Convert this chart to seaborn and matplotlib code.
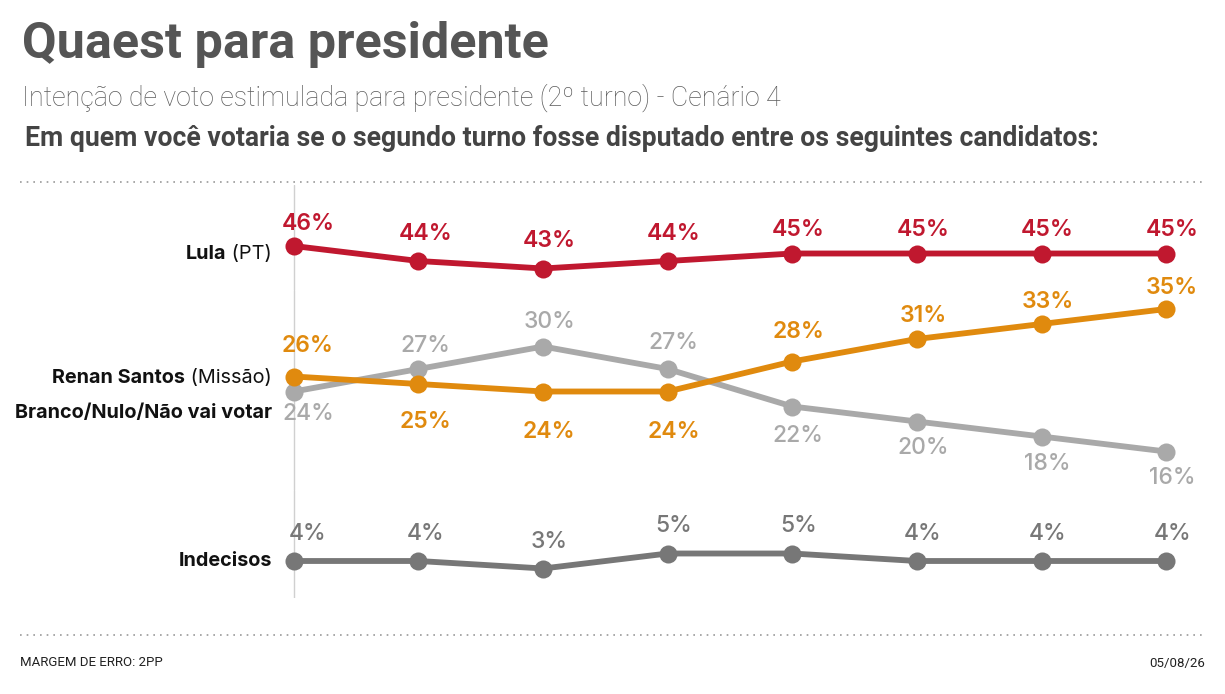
import matplotlib
matplotlib.use('Agg')
import matplotlib.pyplot as plt
from matplotlib.lines import Line2D
import seaborn as sns

# Data
surveys = [0, 1, 2, 3, 4, 5, 6, 7]
lula = [46, 44, 43, 44, 45, 45, 45, 45]
renan = [26, 25, 24, 24, 28, 31, 33, 35]
branco = [24, 27, 30, 27, 22, 20, 18, 16]
indecisos = [4, 4, 3, 5, 5, 4, 4, 4]

# label nudges in pixels (positive = above the point, negative = below)
lula_dy = [22, 27, 27, 27, 23, 23, 23, 23]
renan_dy = [31, -38, -41, -41, 30, 23, 22, 21]
branco_dy = [-22, 23, 24, 26, -30, -26, -27, -26]
indecisos_dy = [27, 27, 26, 27, 27, 27, 27, 27]
label_dx = [14, 7, 6, 6, 6, 6, 6, 6]

RED = '#c0182f'
ORANGE = '#e08a0e'
LIGHT = '#a9a9a9'
DARK = '#777777'

sns.set_theme(style='white')
plt.rcParams['font.family'] = ['Roboto', 'DejaVu Sans']

W, H = 1225, 694
fig = plt.figure(figsize=(W / 100, H / 100), dpi=100)
fig.patch.set_facecolor('white')


def fx(px):
    return px / W


def fy(py):
    return 1 - py / H


X_LEFT, X_RIGHT = 254, 1206
PX_PER_PT = 7.5


def band(top, bottom, ylim):
    ax = fig.add_axes([fx(X_LEFT), fy(bottom), (X_RIGHT - X_LEFT) / W, (bottom - top) / H])
    ax.set_xlim(-0.32, 7.32)
    ax.set_ylim(*ylim)
    ax.set_axis_off()
    ax.patch.set_alpha(0)
    ax.axvline(0, color='#d0d0d0', lw=1, zorder=0)
    return ax


# three stacked bands sharing the same vertical scale (broken axis)
ax_top = band(185, 290, (46 - (290 - 246) / PX_PER_PT, 46 + (246 - 185) / PX_PER_PT))
ax_mid = band(290, 490, (35 - (490 - 309) / PX_PER_PT, 35 + (309 - 290) / PX_PER_PT))
ax_bot = band(490, 598, (4 - (598 - 561) / PX_PER_PT, 4 + (561 - 490) / PX_PER_PT))


def draw(ax, values, dys, color, weight):
    sns.lineplot(x=surveys, y=values, ax=ax, color=color, linewidth=4.2,
                 marker='o', markersize=13, markeredgewidth=0, clip_on=False)
    for x, v, dy, dx in zip(surveys, values, dys, label_dx):
        ax.annotate(f'{v}%', (x, v), xytext=(dx, dy), textcoords='offset pixels',
                    ha='center', va='center', fontsize=16.5, color=color,
                    fontweight=weight, family=['Inter', 'DejaVu Sans'], annotation_clip=False)


draw(ax_top, lula, lula_dy, RED, 'semibold')
draw(ax_mid, branco, branco_dy, LIGHT, 'medium')
draw(ax_mid, renan, renan_dy, ORANGE, 'semibold')
draw(ax_bot, indecisos, indecisos_dy, DARK, 'medium')

# series names at the left: bold name + regular party
labels = [(254, 'Lula', ' (PT)'), (378, 'Renan Santos', ' (Missão)'),
          (413, 'Branco/Nulo/Não vai votar', ''), (561, 'Indecisos', '')]
NAME_SIZE = 14.3
for y, b, r in labels:
    t = fig.text(fx(272), fy(y), r, ha='right', va='center', fontsize=NAME_SIZE,
                 color='#111111', family=['Inter', 'DejaVu Sans'])
    fig.canvas.draw()
    x_end = t.get_window_extent().x0 if r else 272
    fig.text(x_end / W, fy(y), b, ha='right', va='center', fontsize=NAME_SIZE,
             fontweight='bold', color='#111111', family=['Inter', 'DejaVu Sans'])

# titles
fig.text(fx(22), fy(44), 'Quaest para presidente', fontsize=36.2, fontweight='bold',
         color='#555555', va='center', ha='left')
fig.text(fx(22), fy(98), 'Intenção de voto estimulada para presidente (2º turno) - Cenário 4',
         fontsize=19.3, fontweight='light', color='#5c5c5c', va='center', ha='left')
fig.text(fx(25), fy(138), 'Em quem você votaria se o segundo turno fosse disputado entre os seguintes candidatos:',
         fontsize=19.2, fontweight='bold', color='#444444', va='center', ha='left')

# dotted separators
for y in (182, 635):
    fig.add_artist(Line2D([fx(20), fx(1205)], [fy(y), fy(y)], color='#9a9a9a',
                          lw=1.2, linestyle=(0, (1, 3))))

fig.text(fx(20), fy(663), 'MARGEM DE ERRO: 2PP', fontsize=9.5, color='#222222',
         va='center', ha='left')
fig.text(fx(1205), fy(663), '05/08/26', fontsize=9.5, color='#222222',
         va='center', ha='right')

fig.savefig('out.png', dpi=100, facecolor='white')
